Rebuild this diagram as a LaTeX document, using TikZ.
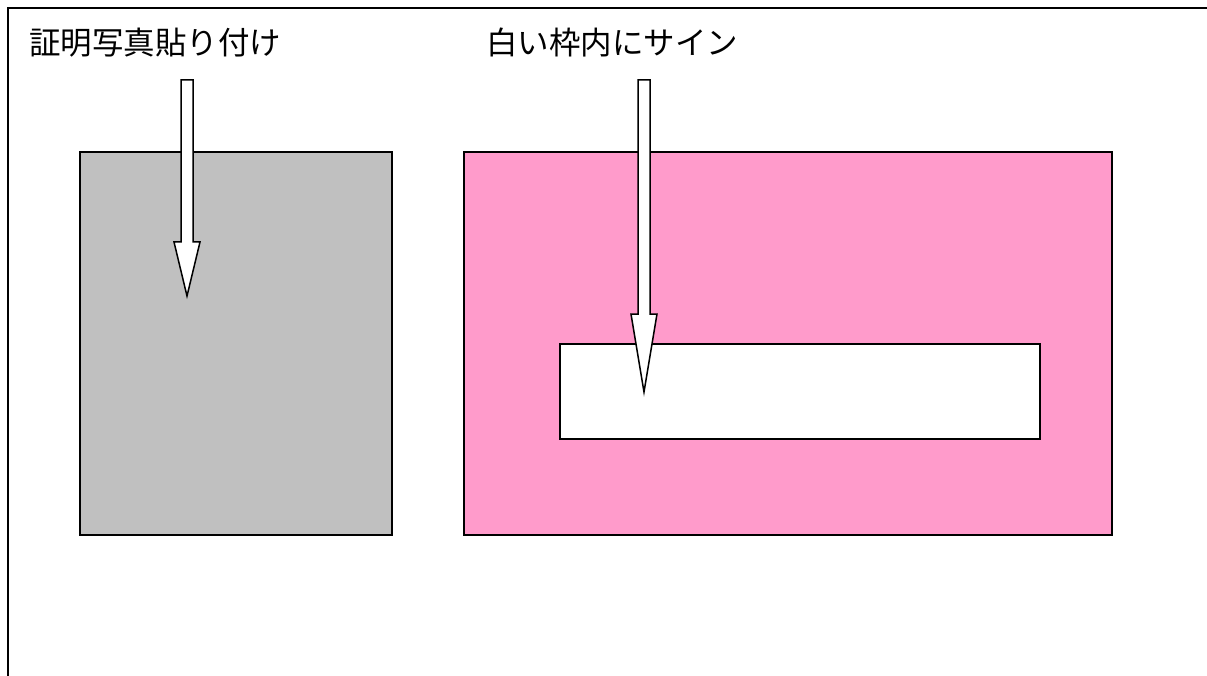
\documentclass[tikz,border=0pt]{standalone}
\usepackage{fontspec}
\newfontfamily\jpfont{Noto Sans CJK JP}
\usetikzlibrary{positioning}
\definecolor{photogray}{HTML}{C0C0C0}
\definecolor{signpink}{HTML}{FF9BCB}
\begin{document}
\begin{tikzpicture}
[x=1pt,y=-1pt,
  boxdecorate/.style={shape=rectangle,draw,line width=1.5pt,inner sep=0pt},%
  labeldecorate/.style={anchor=west,inner sep=0pt,font=\jpfont\fontsize{31.5pt}{31.5pt}\selectfont},%
  arrowdecorate/.style={draw,fill=white,line width=1.5pt,line join=miter}]
\useasboundingbox (0,0) rectangle (1207,676);
%% outer frame
\draw[line width=2pt] (1207,8) -- (8,8) -- (8,676);
%% boxes
\node (photo) at (236,343.5) [boxdecorate,fill=photogray,minimum width=312pt,minimum height=383pt] {};
\node (sign) at (788,343.5) [boxdecorate,fill=signpink,minimum width=648pt,minimum height=383pt] {};
\node (signfield) at (800,391.5) [boxdecorate,fill=white,minimum width=480pt,minimum height=95pt] {};
%% labels
\node (Lphoto) at (29,43) [labeldecorate] {証明写真貼り付け};
\node (Lsign) at (486,43) [labeldecorate] {白い枠内にサイン};
%% block arrows
\foreach \x/\yhead/\ytip in {187/242/296, 644/314/392}
{
  \draw[arrowdecorate] (\x-6,80) -- (\x+6,80) -- (\x+6,\yhead) -- (\x+13,\yhead)
    -- (\x,\ytip) -- (\x-13,\yhead) -- (\x-6,\yhead) -- cycle;
}
\end{tikzpicture}
\end{document}
